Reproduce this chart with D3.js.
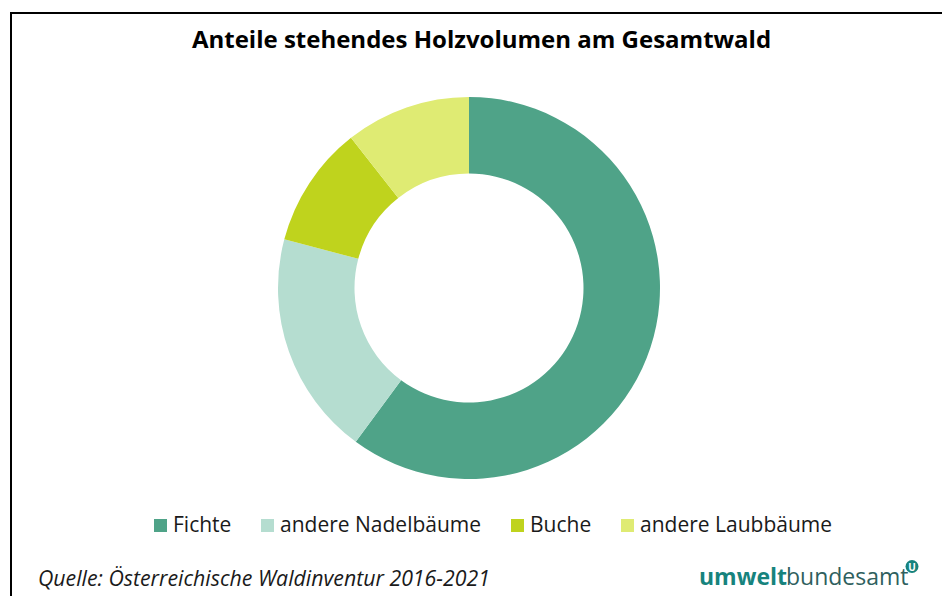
<!DOCTYPE html>
<html>
<head>
<meta charset="utf-8">
<script src="https://cdn.jsdelivr.net/npm/d3@7"></script>
<style>
  body { margin: 0; background: #fff; }
  svg { display: block; font-family: "Open Sans", sans-serif; }
</style>
</head>
<body>
<div id="chart"></div>
<script>
// values (share of standing timber volume, %)
const species = ['Fichte', 'andere Nadelbäume', 'Buche', 'andere Laubbäume'];
const shares = [60.1, 19.0, 10.3, 10.6];
const colors = ['#4fa388', '#b5ddd0', '#bfd31d', '#dfeb73'];

const width = 942, height = 596;

const svg = d3.select('#chart').append('svg')
    .attr('width', width)
    .attr('height', height);

// frame (only top and left edges fall inside the picture)
svg.append('rect')
    .attr('x', 11).attr('y', 13)
    .attr('width', 1000).attr('height', 700)
    .attr('fill', 'none')
    .attr('stroke', '#000')
    .attr('stroke-width', 2);

// title
svg.append('text')
    .attr('x', 481.5).attr('y', 48)
    .attr('text-anchor', 'middle')
    .attr('font-size', 24)
    .attr('font-weight', 700)
    .attr('fill', '#000')
    .text('Anteile stehendes Holzvolumen am Gesamtwald');

// donut
const data = species.map((s, i) => ({ name: s, value: shares[i], color: colors[i] }));
const pie = d3.pie().sort(null).value(d => d.value);
const arc = d3.arc().innerRadius(114.5).outerRadius(191);

const chart = svg.append('g')
    .attr('transform', 'translate(469,288)');

chart.selectAll('path')
    .data(pie(data))
    .join('path')
    .attr('d', arc)
    .attr('fill', d => d.data.color);

// legend
const legendX = [154, 261, 511, 621];
const legend = svg.append('g').attr('transform', 'translate(0,519)');
const item = legend.selectAll('g')
    .data(data)
    .join('g')
    .attr('transform', (d, i) => `translate(${legendX[i]},0)`);

item.append('rect')
    .attr('width', 13).attr('height', 13)
    .attr('fill', d => d.color);

item.append('text')
    .attr('x', 19).attr('y', 13)
    .attr('font-size', 21)
    .attr('fill', '#1a1a1a')
    .text(d => d.name);

// source
svg.append('text')
    .attr('x', 38).attr('y', 586)
    .attr('font-size', 21.3)
    .attr('font-style', 'italic')
    .attr('fill', '#1a1a1a')
    .text('Quelle: Österreichische Waldinventur 2016-2021');

// logo
const logo = svg.append('text')
    .attr('x', 699).attr('y', 585)
    .attr('font-size', 23);
logo.append('tspan').attr('font-weight', 700).attr('fill', '#17837d').text('umwelt');
logo.append('tspan').attr('fill', '#2f5f5e').attr('dx', -1).text('bundesamt');

svg.append('circle')
    .attr('cx', 912).attr('cy', 566.5).attr('r', 6.5)
    .attr('fill', '#17837d');
svg.append('text')
    .attr('x', 912).attr('y', 570.5)
    .attr('text-anchor', 'middle')
    .attr('font-size', 10)
    .attr('font-weight', 700)
    .attr('fill', '#fff')
    .text('U');
</script>
</body>
</html>
